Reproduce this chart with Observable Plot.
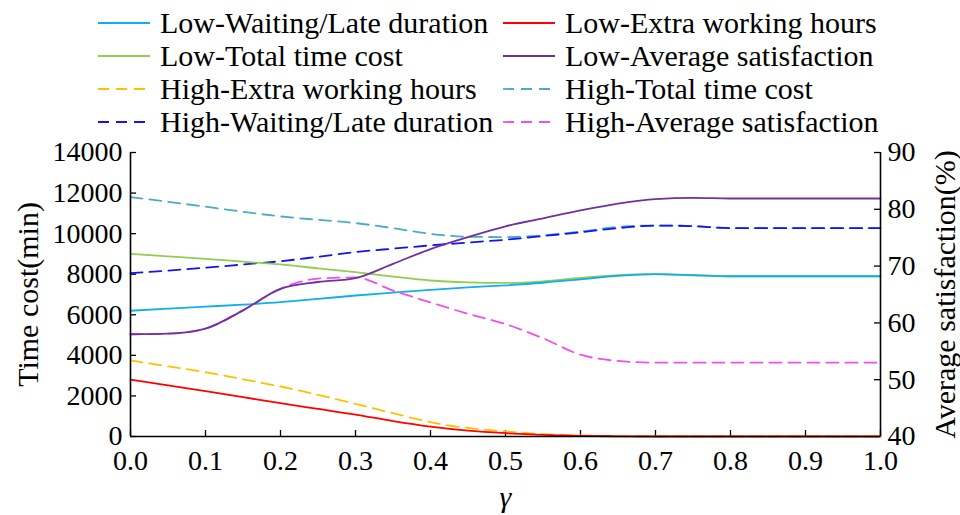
<!DOCTYPE html>
<html>
<head>
<meta charset="utf-8">
<script src="https://cdn.jsdelivr.net/npm/d3@7"></script>
<script src="https://cdn.jsdelivr.net/npm/@observablehq/plot@0.6"></script>
<style>
  html, body { margin: 0; padding: 0; background: #fff; }
  #wrap { position: relative; width: 960px; height: 515px; overflow: hidden; font-family: 'Liberation Serif', serif; }
  #legend { position: absolute; left: 0; top: 0; width: 960px; height: 140px; pointer-events: none; }
  .lg-item { position: absolute; height: 33px; display: flex; align-items: center; font-family: 'Liberation Serif', serif; font-size: 30px; line-height: 33px; color: #000; white-space: nowrap; }
  .lg-item svg { flex: none; margin-right: 10px; }
</style>
</head>
<body>
<div id="wrap"></div>
<script>
// ---- Data ----
const gamma = [0, 0.05, 0.1, 0.15, 0.2, 0.25, 0.3, 0.35, 0.4, 0.45, 0.5, 0.55, 0.6, 0.65, 0.7, 0.75, 0.8, 0.85, 0.9, 0.95, 1.0];

const lowWaiting  = [6200, 6300, 6400, 6500, 6620, 6780, 6950, 7090, 7230, 7350, 7450, 7580, 7750, 7920, 8000, 7960, 7900, 7900, 7900, 7900, 7900];
const lowExtra    = [2800, 2520, 2235, 1940, 1640, 1360, 1080, 760, 490, 290, 165, 80, 30, 10, 0, 0, 0, 0, 0, 0, 0];
const lowTotal    = [9000, 8880, 8760, 8620, 8480, 8290, 8100, 7880, 7690, 7600, 7570, 7650, 7820, 7950, 8000, 7950, 7900, 7900, 7900, 7900, 7900];
const lowAvgSat   = [58.0, 58.1, 59.0, 62.2, 66.0, 67.2, 67.9, 70.4, 73.0, 75.1, 77.0, 78.4, 79.8, 81.0, 81.8, 82.0, 81.9, 81.9, 81.9, 81.9, 81.9];
const highExtra   = [3750, 3460, 3170, 2820, 2465, 2050, 1610, 1150, 706, 420, 250, 120, 50, 15, 0, 0, 0, 0, 0, 0, 0];
const highTotal   = [11800, 11570, 11330, 11080, 10850, 10680, 10520, 10270, 9990, 9850, 9830, 9920, 10100, 10330, 10400, 10370, 10270, 10270, 10270, 10270, 10270];
const highWaiting = [8050, 8180, 8320, 8480, 8640, 8860, 9090, 9260, 9420, 9560, 9700, 9880, 10070, 10270, 10400, 10370, 10270, 10270, 10270, 10270, 10270];
const highAvgSat  = [58.0, 58.1, 59.0, 62.2, 66.0, 67.8, 68.0, 65.7, 63.6, 61.6, 59.8, 57.3, 54.4, 53.3, 53.0, 53.0, 53.0, 53.0, 53.0, 53.0, 53.0];

const xTicks = [0, 0.1, 0.2, 0.3, 0.4, 0.5, 0.6, 0.7, 0.8, 0.9, 1.0];
const leftTicks = [0, 2000, 4000, 6000, 8000, 10000, 12000, 14000];
const rightTicks = [40, 50, 60, 70, 80, 90];

const series = [
  {name: "Low-Waiting/Late duration", values: lowWaiting, color: "#10AEEF", dash: null, axis: "left"},
  {name: "Low-Extra working hours", values: lowExtra, color: "#FF0000", dash: null, axis: "left"},
  {name: "Low-Total time cost", values: lowTotal, color: "#92CD50", dash: null, axis: "left"},
  {name: "Low-Average satisfaction", values: lowAvgSat, color: "#7030A0", dash: null, axis: "right"},
  {name: "High-Extra working hours", values: highExtra, color: "#FFC000", dash: "12,7", axis: "left"},
  {name: "High-Total time cost", values: highTotal, color: "#4BACC6", dash: "12,7", axis: "left"},
  {name: "High-Waiting/Late duration", values: highWaiting, color: "#1414F0", dash: "12,7", axis: "left"},
  {name: "High-Average satisfaction", values: highAvgSat, color: "#F050E8", dash: "12,7", axis: "right"}
];
// draw order (back to front)
const drawOrder = ["High-Total time cost", "High-Waiting/Late duration", "Low-Total time cost", "Low-Waiting/Late duration",
  "High-Extra working hours", "Low-Extra working hours", "High-Average satisfaction", "Low-Average satisfaction"];

// right axis (40–90 %) mapped onto left scale (0–14000)
const toLeft = s => (s - 40) * 280;

const FONT = "Liberation Serif";
const W = 960, H = 515, mL = 130, mR = 80, mT = 152, mB = 79;
const frameW = W - mL - mR, frameH = H - mT - mB;

const lineMarks = drawOrder.map(n => {
  const s = series.find(d => d.name === n);
  const data = gamma.map((g, i) => ({x: g, y: s.axis === "right" ? toLeft(s.values[i]) : s.values[i]}));
  return Plot.line(data, {x: "x", y: "y", stroke: s.color, strokeWidth: 1.8, strokeDasharray: s.dash, curve: "monotone-x"});
});

const chart = Plot.plot({
  width: W, height: H,
  marginLeft: mL, marginRight: mR, marginTop: mT, marginBottom: mB,
  style: {fontFamily: FONT, fontSize: "28px", color: "#000", background: "#fff", overflow: "visible"},
  x: {domain: [0, 1]},
  y: {domain: [0, 14000]},
  marks: [
    Plot.axisX({ticks: xTicks, tickSize: 0, tickPadding: 14, tickFormat: d3.format(".1f"), label: null, fontSize: 28}),
    Plot.axisY({anchor: "left", ticks: leftTicks, tickSize: 0, tickPadding: 8, tickFormat: d => String(d), label: null, fontSize: 28}),
    Plot.axisY({anchor: "right", ticks: rightTicks.map(toLeft), tickSize: 0, tickPadding: 7, tickFormat: d => String(d / 280 + 40), label: null, fontSize: 28}),
    // inward tick marks
    Plot.tickX(xTicks, {x: d => d, insetTop: frameH - 6, stroke: "#000", strokeWidth: 1.3}),
    Plot.tickY(leftTicks, {y: d => d, insetRight: frameW - 6, stroke: "#000", strokeWidth: 1.3}),
    Plot.tickY(rightTicks.map(toLeft), {y: d => d, insetLeft: frameW - 6, stroke: "#000", strokeWidth: 1.3}),
    ...lineMarks,
    // axis lines
    Plot.ruleX([0], {stroke: "#000", strokeWidth: 1.6}),
    Plot.ruleX([1], {stroke: "#000", strokeWidth: 1.6}),
    Plot.ruleY([0], {stroke: "#000", strokeWidth: 1.6}),
    // axis titles
    Plot.text(["Time cost(min)"], {frameAnchor: "left", dx: -102, rotate: -90, textAnchor: "middle", lineAnchor: "middle", fontSize: 30, fill: "#000"}),
    Plot.text(["Average satisfaction(%)"], {frameAnchor: "right", dx: 65, rotate: -90, textAnchor: "middle", lineAnchor: "middle", fontSize: 30, fill: "#000"}),
    Plot.text(["γ"], {frameAnchor: "bottom", dy: 61, textAnchor: "middle", lineAnchor: "middle", fontSize: 30, fontStyle: "italic", fill: "#000"})
  ]
});

const wrap = document.getElementById("wrap");
wrap.appendChild(chart);

// ---- Legend (HTML, two columns, four rows) ----
const legend = d3.select(wrap).append("div").attr("id", "legend");
const colX = [98, 503];
series.forEach((s, i) => {
  const col = i % 2, row = Math.floor(i / 2);
  const item = legend.append("div").attr("class", "lg-item")
    .style("left", colX[col] + "px").style("top", (6 + row * 33) + "px");
  const sw = item.append("svg").attr("width", 52).attr("height", 4);
  sw.append("line").attr("x1", 0).attr("x2", 52).attr("y1", 2).attr("y2", 2)
    .attr("stroke", s.color).attr("stroke-width", 1.8).attr("stroke-dasharray", s.dash ? "11,7" : null);
  item.append("span").text(s.name);
});
</script>
</body>
</html>
